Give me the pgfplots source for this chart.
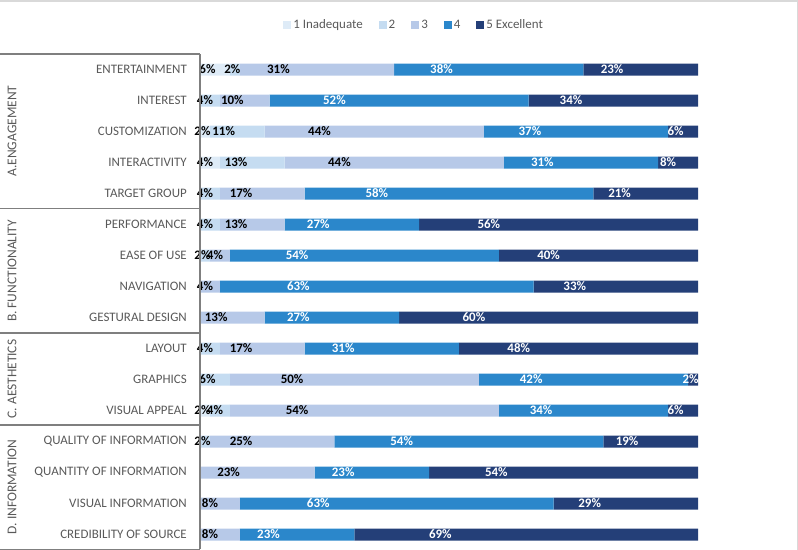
\documentclass[border=0pt]{standalone}
\usepackage{pgfplots}
\pgfplotsset{compat=1.18}
\usepackage{pgfplotstable}
\usepackage{fontspec}
\setmainfont{Carlito}
\definecolor{c1}{HTML}{DEEBF7}
\definecolor{c2}{HTML}{C5DCF1}
\definecolor{c3}{HTML}{B7C9E8}
\definecolor{c4}{HTML}{2B87CB}
\definecolor{c5}{HTML}{243F78}
\definecolor{txtgray}{HTML}{595959}
\definecolor{linegray}{HTML}{7F7F7F}
\definecolor{framegray}{HTML}{D9D9D9}
\pgfplotstableread{
y c1 c2 c3 c4 c5
0 6 2 31 38 23
1 0 4 10 52 34
2 2 11 44 37 6
3 4 13 44 31 8
4 0 4 17 58 21
5 0 4 13 27 56
6 0 2 4 54 40
7 0 0 4 63 33
8 0 0 13 27 60
9 0 4 17 31 48
10 0 6 50 42 2
11 2 4 54 34 6
12 0 2 25 54 19
13 0 0 23 23 54
14 0 0 8 63 29
15 0 0 8 23 69
}\data
\begin{document}
\begin{tikzpicture}
\path[use as bounding box] (0,0) rectangle (798bp,550bp);
\begin{axis}[
  at={(200bp,0bp)}, anchor=south west,
  scale only axis, width=498bp, height=496bp,
  xbar stacked, bar width=12bp,
  xmin=0, xmax=100, ymin=-0.5, ymax=15.5,
  y dir=reverse, enlargelimits=false, clip=false,
  hide x axis,
  axis line style={draw=none},
  major tick length=0pt,
  ytick={0,...,15},
  yticklabels={ENTERTAINMENT, INTEREST, CUSTOMIZATION, INTERACTIVITY, TARGET GROUP, PERFORMANCE, EASE OF USE, NAVIGATION, GESTURAL DESIGN, LAYOUT, GRAPHICS, VISUAL APPEAL, QUALITY OF INFORMATION, QUANTITY OF INFORMATION, VISUAL INFORMATION, CREDIBILITY OF SOURCE},
  yticklabel style={anchor=east, inner sep=0pt, xshift=-13bp, text=txtgray, font=\fontsize{13}{15}\selectfont},
  visualization depends on=rawx \as \rawx,
  nodes near coords={\pgfmathtruncatemacro\v{\rawx}\ifnum\v>0 \v\%\fi},
  every node near coord/.append style={anchor=center, inner sep=0pt, font=\bfseries\fontsize{13}{15}\selectfont, xshift={-1.245bp*\rawx}},
  legend columns=5,
  legend style={at={(0.43,1.058)}, anchor=center, draw=none, fill=none, font=\fontsize{13}{15}\selectfont, text=txtgray,
    /tikz/every even column/.append style={column sep=14bp}},
  legend image code/.code={\fill[#1] (0bp,-4bp) rectangle (8bp,4bp);},
]
\addplot[fill=c1, draw=none, every node near coord/.append style={text=black}] table[x=c1, y=y]{\data};
\addplot[fill=c2, draw=none, every node near coord/.append style={text=black}] table[x=c2, y=y]{\data};
\addplot[fill=c3, draw=none, every node near coord/.append style={text=black}] table[x=c3, y=y]{\data};
\addplot[fill=c4, draw=none, every node near coord/.append style={text=white}] table[x=c4, y=y]{\data};
\addplot[fill=c5, draw=none, every node near coord/.append style={text=white}] table[x=c5, y=y]{\data};
\legend{1 Inadequate, 2, 3, 4, 5 Excellent}
\end{axis}
% frame
\draw[framegray, line width=1.5bp] (0,549.2bp) -- (798bp,549.2bp);
\draw[framegray, line width=1bp] (797.5bp,0) -- (797.5bp,550bp);
\draw[linegray, line width=1.2bp] (200bp,0.6bp) -- (200bp,496bp);
\foreach \yy in {496, 341.5, 217, 125, 0.6} {
  \draw[linegray, line width=1.2bp] (0,\yy bp) -- (200bp,\yy bp);
}
\begin{scope}[every node/.style={rotate=90, text=txtgray, font=\fontsize{13.5}{15}\selectfont}]
\node at (12bp,419bp) {A.ENGAGEMENT};
\node at (12bp,279bp) {B. FUNCTIONALITY};
\node at (12bp,171bp) {C. AESTHETICS};
\node at (12bp,63bp) {D. INFORMATION};
\end{scope}
\end{tikzpicture}
\end{document}
